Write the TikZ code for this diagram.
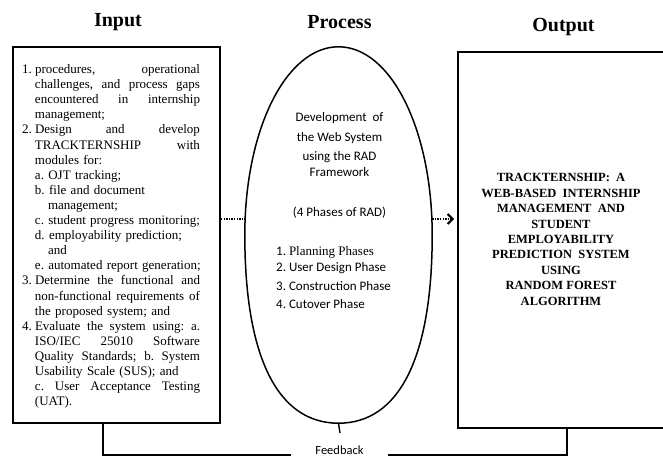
\documentclass[tikz,border=0pt]{standalone}
\usepackage{fontspec}
\setmainfont{Liberation Serif}
\newfontfamily\calfont{Carlito}
\usetikzlibrary{shapes.geometric,arrows.meta}
\setlength\parindent{0pt}
\frenchspacing
\newlength\inw
\setlength\inw{178pt}
\newcommand\jline[2][0pt]{\hspace*{#1}\makebox[\dimexpr\inw-#1\relax][s]{\spaceskip=0pt\xspaceskip=0pt\relax #2}\par}
\newcommand\lline[2][0pt]{\hspace*{#1}\mbox{#2}\par}
\newcommand\num[1]{\makebox[13pt][l]{#1}}
\begin{document}
\begin{tikzpicture}[x=1pt,y=-1pt,
  box/.style={draw,line width=2pt,minimum width=207pt,minimum height=376pt,inner sep=0pt},
  title/.style={font=\fontsize{20}{24}\selectfont\bfseries,inner sep=0pt},
  dots/.style={line width=1.3pt,dash pattern=on 1.3pt off 1.3pt},
  fbline/.style={line width=1.4pt},
  caltext/.style={font=\calfont\fontsize{13}{16}\selectfont,inner sep=0pt}]
\useasboundingbox (0,0) rectangle (663,457);

% titles
\node[title] (tin) at (118,22) {Input};
\node[title] (tproc) at (339.5,22) {Process};
\node[title] (tout) at (563.5,27) {Output};

% boxes
\node[box] (input) at (116.5,235) {};
\node[box] (output) at (561.5,240) {};
\node[ellipse,minimum width=187pt,minimum height=376pt,inner sep=0pt] (proc) at (338.5,235) {};
\draw[line width=1.5pt] (proc.north) .. controls +(52.4,0) and +(0,-105.3) .. (proc.east)
  .. controls +(0,122.2) and +(60.8,0) .. (proc.south)
  .. controls +(-60.8,0) and +(0,122.2) .. (proc.west)
  .. controls +(0,-105.3) and +(-52.4,0) .. (proc.north) -- cycle;

% input text
\node[text width=178pt,inner sep=0pt,font=\fontsize{13}{15.1}\selectfont] (intext) at (111,236.5) {%
\jline{\num{1.}procedures, operational}
\jline[13pt]{challenges, and process gaps}
\jline[13pt]{encountered in internship}
\lline[13pt]{management;}
\jline{\num{2.}Design and develop}
\jline[13pt]{TRACKTERNSHIP with}
\lline[13pt]{modules for:}
\lline[13pt]{a. OJT tracking;}
\lline[13pt]{b. file and document}
\lline[26pt]{management;}
\lline[13pt]{c. student progress monitoring;}
\lline[13pt]{d. employability prediction;}
\lline[26pt]{and}
\lline[13pt]{e. automated report generation;}
\jline{\num{3.}Determine the functional and}
\jline[13pt]{non-functional requirements of}
\lline[13pt]{the proposed system; and}
\jline{\num{4.}Evaluate the system using: a.}
\jline[13pt]{ISO/IEC 25010 Software}
\jline[13pt]{Quality Standards; b. System}
\lline[13pt]{Usability Scale (SUS); and}
\jline[13pt]{c. User Acceptance Testing}
\lline[13pt]{(UAT).}};

% process text
\node[caltext,align=center] (proctext) at (339.5,165.5) {Development\ \ of\\[4pt]
the Web System\\[3pt]
using the RAD\\
Framework\\[24pt]
(4 Phases of RAD)};
\node[caltext,align=left,anchor=west] (phases) at (276,278) {1. {\rmfamily Planning Phases}\\
2. User Design Phase\\[3pt]
3. Construction Phase\\[2pt]
4. Cutover Phase};

% output text
\node[align=center,inner sep=0pt,font=\fontsize{12.5}{15.4}\selectfont\bfseries] (outtext) at (561,239.5) {TRACKTERNSHIP:\ \ A\\
WEB-BASED\ \ INTERNSHIP\\
MANAGEMENT\ \ AND\\
STUDENT\\
EMPLOYABILITY\\
PREDICTION\ \ SYSTEM\\
USING\\
RANDOM FOREST\\
ALGORITHM};

% arrows
\coordinate (ay) at (0,219);
\draw[dots] (input.east |- ay) -- (proc.west |- ay);
\draw[dots,-{Straight Barb[length=5pt,width=10pt,line width=2pt]},shorten >=3pt] (proc.east |- ay) -- (output.west |- ay);

% feedback
\coordinate (fbL) at (103,455);
\coordinate (fbR) at (567,455);
\coordinate (tick) at (340,433);
\node[caltext,font=\calfont\fontsize{12.5}{15}\selectfont,minimum width=97pt] (fb) at (339.5,450.5) {Feedback};
\draw[fbline] (fbL |- input.south) -- (fbL) -- (fb.west |- fbL);
\draw[fbline] (fb.east |- fbR) -- (fbR) -- (fbR |- output.south);
\draw[fbline] (proc.south) -- (tick);
\end{tikzpicture}
\end{document}
